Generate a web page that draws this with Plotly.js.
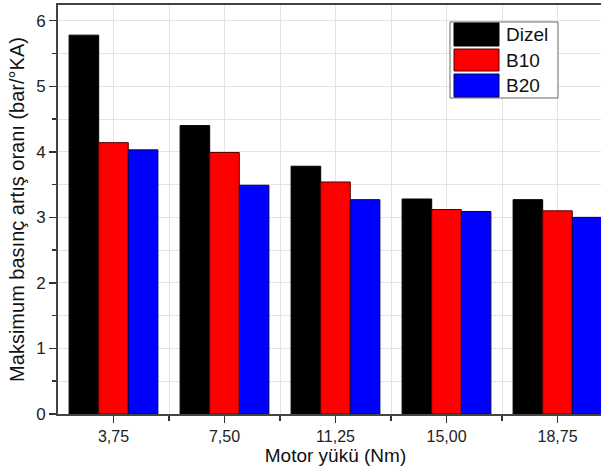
<!DOCTYPE html>
<html>
<head>
<meta charset="utf-8">
<script src="https://cdn.plot.ly/plotly-3.0.1.min.js"></script>
<style>
html,body{margin:0;padding:0;overflow:hidden;background:#fff;}
#chart{width:615px;height:466px;}
</style>
</head>
<body>
<div id="chart"></div>
<script>
const categories = ["3,75", "7,50", "11,25", "15,00", "18,75"];
const seriesNames = ["Dizel", "B10", "B20"];
const dizel = [5.78, 4.40, 3.78, 3.28, 3.27];
const b10 = [4.14, 3.99, 3.54, 3.12, 3.10];
const b20 = [4.03, 3.49, 3.27, 3.09, 3.00];
const colors = ["#000000", "#ff0000", "#0000ff"];
const edgeColors = ["#000000", "#5a0000", "#00005a"];
const seriesValues = [dizel, b10, b20];

const W = 615, H = 466;
const M = {l: 58, r: 2, t: 5, b: 52};
const PW = W - M.l - M.r, PH = H - M.t - M.b;
const px = x => (x - M.l) / PW;
const py = y => (H - M.b - y) / PH;

const xIdx = categories.map((c, i) => i);
const traces = seriesNames.map((name, k) => ({
  type: 'bar',
  name: name,
  x: xIdx,
  y: seriesValues[k],
  marker: {color: colors[k], line: {color: edgeColors[k], width: 1}},
  showlegend: false,
  hoverinfo: 'x+y'
}));

const font = "Liberation Sans, Arial, sans-serif";
const shapes = [];
const annotations = [];
// legend box
shapes.push({type: 'rect', xref: 'paper', yref: 'paper',
  x0: px(450), x1: px(558), y0: py(98), y1: py(22),
  line: {color: '#666', width: 1}, fillcolor: '#ffffff', layer: 'above'});
const rowTop = [23, 49, 74], rowBot = [46, 71, 97];
seriesNames.forEach((n, k) => {
  shapes.push({type: 'rect', xref: 'paper', yref: 'paper',
    x0: px(454), x1: px(499), y0: py(rowBot[k]), y1: py(rowTop[k]),
    line: {color: edgeColors[k], width: 1}, fillcolor: colors[k], layer: 'above'});
  annotations.push({xref: 'paper', yref: 'paper', x: px(504), y: py((rowTop[k] + rowBot[k]) / 2),
    xanchor: 'left', yanchor: 'middle', text: n, showarrow: false,
    font: {family: font, size: 19, color: '#111'}});
});

const layout = {
  width: W, height: H,
  margin: M,
  paper_bgcolor: '#fff', plot_bgcolor: '#fff',
  barmode: 'group', bargap: 0.2, bargroupgap: 0,
  showlegend: false,
  font: {family: font, color: '#222'},
  xaxis: {
    range: [-0.5, 4.5],
    tickmode: 'array', tickvals: xIdx, ticktext: categories,
    ticks: 'outside', ticklen: 7, tickwidth: 1.5, tickcolor: '#333',
    showgrid: true, gridcolor: '#e3e3e3', gridwidth: 1,
    minor: {tickvals: xIdx.slice(0, -1).map(v => v + 0.5), ticks: 'outside', ticklen: 5, tickwidth: 1.5, tickcolor: '#333', showgrid: true, gridcolor: '#e3e3e3'},
    showline: true, linecolor: '#444', linewidth: 2, mirror: true,
    zeroline: false,
    tickfont: {family: font, size: 16, color: '#222'},
    title: {text: 'Motor yükü (Nm)', font: {family: font, size: 19, color: '#111'}, standoff: 3}
  },
  yaxis: {
    range: [0, 6.24],
    tickmode: 'linear', tick0: 0, dtick: 1,
    ticks: 'outside', ticklen: 7, tickwidth: 1.5, tickcolor: '#333',
    showgrid: true, gridcolor: '#e3e3e3', gridwidth: 1,
    minor: {dtick: 0.5, ticks: 'outside', ticklen: 4, tickwidth: 1.5, tickcolor: '#333', showgrid: true, gridcolor: '#e3e3e3'},
    showline: true, linecolor: '#444', linewidth: 2, mirror: true,
    zeroline: false,
    tickfont: {family: font, size: 17, color: '#222'},
    title: {text: 'Maksimum basınç artış oranı (bar/°KA)', font: {family: font, size: 20, color: '#111'}, standoff: 6}
  },
  shapes: shapes,
  annotations: annotations
};

Plotly.newPlot('chart', traces, layout, {displayModeBar: false, staticPlot: true});
</script>
</body>
</html>
